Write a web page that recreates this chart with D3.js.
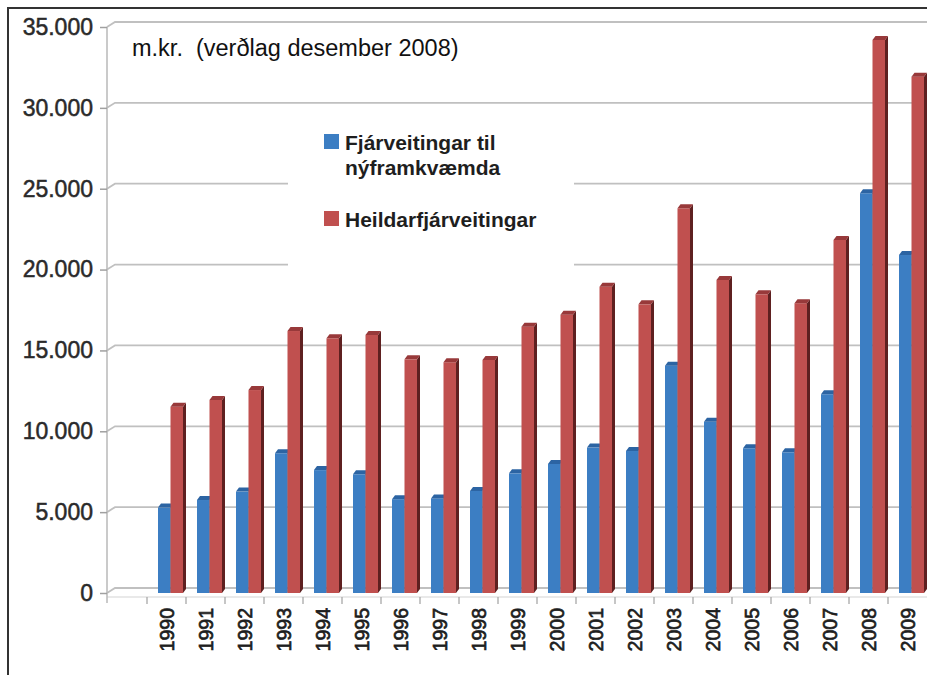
<!DOCTYPE html>
<html>
<head>
<meta charset="utf-8">
<script src="https://cdn.jsdelivr.net/npm/d3@7"></script>
<style>
  body { margin: 0; background: #fff; }
  svg { display: block; font-family: "Liberation Sans", Arial, sans-serif; }
</style>
</head>
<body>
<script>
// data (m.kr.)
var years = ["1990","1991","1992","1993","1994","1995","1996","1997","1998","1999",
             "2000","2001","2002","2003","2004","2005","2006","2007","2008","2009"];
var nyframkvaemdir = [5280, 5750, 6270, 8640, 7600, 7340, 5800, 5850, 6310, 7400,
                      7980, 8990, 8780, 14060, 10590, 8950, 8700, 12290, 24720, 20900];
var heildar = [11520, 11940, 12550, 16200, 15750, 15960, 14450, 14270, 14410, 16470,
               17210, 18940, 17850, 23790, 19360, 18470, 17920, 21830, 34200, 31930];
var seriesKeys = ["nyfr", "heild"];
var seriesNames = [["Fjárveitingar til", "nýframkvæmda"], ["Heildarfjárveitingar"]];
var yTicks = [0, 5000, 10000, 15000, 20000, 25000, 30000, 35000];
var titleText = "m.kr.  (verðlag desember 2008)";

var W = 927, H = 675;
var depthX = 8, depthY = 5;     // back wall offset
var barDx = 3, barDy = 4;       // bar 3d depth

var colors = {
  nyfr:  {front: "#3c7ec3", side: "#24538a", top: "#2c64a3"},
  heild: {front: "#c0504f", side: "#5e2020", top: "#98393a"}
};

var svg = d3.select("body").append("svg")
  .attr("width", W).attr("height", H);

var loc = d3.formatLocale({decimal: ",", thousands: ".", grouping: [3], currency: ["", ""]});
var fmt = loc.format(",d");

var y = d3.scaleLinear().domain([0, 35000]).range([593, 27]);
var x = d3.scaleBand().domain(years).range([147, 927]).padding(0);
var xs = d3.scaleBand().domain(seriesKeys).range([11, 36]).padding(0);

// outer frame
svg.append("rect")
  .attr("x", 8).attr("y", 8).attr("width", W + 10).attr("height", H + 10)
  .attr("fill", "none").attr("stroke", "#333").attr("stroke-width", 2);

// back-wall gridlines
var grid = svg.append("g");
yTicks.forEach(function(t){
  grid.append("path")
    .attr("d", "M107," + y(t) + "L" + (107 + depthX) + "," + (y(t) - depthY) + "L" + W + "," + (y(t) - depthY))
    .attr("fill", "none").attr("stroke", "#c0c0c0").attr("stroke-width", 1.8);
});
// front floor edge
grid.append("line")
  .attr("x1", 107).attr("x2", W).attr("y1", 597).attr("y2", 597)
  .attr("stroke", "#d4d4d4").attr("stroke-width", 1.2);

// legend box covers gridlines
svg.append("rect")
  .attr("x", 288).attr("y", 112).attr("width", 286).attr("height", 185)
  .attr("fill", "#fff");

// y axis
var yAxis = svg.append("g")
  .attr("transform", "translate(107,0)")
  .call(d3.axisLeft(y).tickValues(yTicks).tickFormat(fmt).tickSize(7).tickSizeOuter(0).tickPadding(7));
yAxis.select(".domain").attr("stroke", "#b8b8b8").attr("stroke-width", 1.5)
  .attr("d", "M0,27V603");
yAxis.selectAll(".tick line").attr("stroke", "#a0a0a0").attr("stroke-width", 1.5);
yAxis.selectAll(".tick text")
  .attr("font-size", 23).attr("fill", "#2a2a2a")
  .attr("stroke", "#2a2a2a").attr("stroke-width", 0.5)
  .attr("font-family", "Liberation Sans, Arial, sans-serif");

// x axis: ticks at band edges, rotated labels
var xg = svg.append("g");
years.forEach(function(d){
  xg.append("line")
    .attr("x1", x(d)).attr("x2", x(d)).attr("y1", 597).attr("y2", 604)
    .attr("stroke", "#a8a8a8").attr("stroke-width", 1.3);
});
xg.selectAll("text").data(years).enter().append("text")
  .attr("transform", function(d){ return "translate(" + (x(d) + x.bandwidth() / 2) + ",608) rotate(-90)"; })
  .attr("text-anchor", "end")
  .attr("dy", "0.36em")
  .attr("font-size", 19.5)
  .attr("fill", "#1e1e1e")
  .attr("stroke", "#1e1e1e").attr("stroke-width", 0.7)
  .text(function(d){ return d; });

// bars
function bar3d(g, x0, w, v, c) {
  var yt = y(v), yb = y(0);
  g.append("rect").attr("x", x0).attr("y", yt).attr("width", w).attr("height", yb - yt)
    .attr("fill", c.front);
  g.append("path")
    .attr("d", "M" + (x0 + w) + "," + yt + "L" + (x0 + w + barDx) + "," + (yt - barDy) +
               "L" + (x0 + w + barDx) + "," + (yb - barDy) + "L" + (x0 + w) + "," + yb + "Z")
    .attr("fill", c.side);
  g.append("path")
    .attr("d", "M" + x0 + "," + yt + "L" + (x0 + barDx) + "," + (yt - barDy) +
               "L" + (x0 + w + barDx) + "," + (yt - barDy) + "L" + (x0 + w) + "," + yt + "Z")
    .attr("fill", c.top);
}

var bars = svg.append("g");
years.forEach(function(d, i){
  var g = bars.append("g");
  bar3d(g, x(d) + xs("nyfr"), xs.bandwidth(), nyframkvaemdir[i], colors.nyfr);
  bar3d(g, x(d) + xs("heild"), xs.bandwidth(), heildar[i], colors.heild);
});

// title
svg.append("text")
  .attr("x", 132).attr("y", 56)
  .attr("font-size", 23.5).attr("fill", "#111")
  .style("white-space", "pre")
  .text(titleText);

// legend
var leg = svg.append("g");
var legY = [150, 227];
seriesKeys.forEach(function(k, i){
  leg.append("rect")
    .attr("x", 324).attr("y", legY[i] - 16).attr("width", 15).attr("height", 15)
    .attr("fill", colors[k].front);
  seriesNames[i].forEach(function(line, j){
    leg.append("text")
      .attr("x", 345).attr("y", legY[i] + j * 25)
      .attr("font-size", 21).attr("font-weight", "bold").attr("fill", "#1e1e1e")
      .text(line);
  });
});
</script>
</body>
</html>
